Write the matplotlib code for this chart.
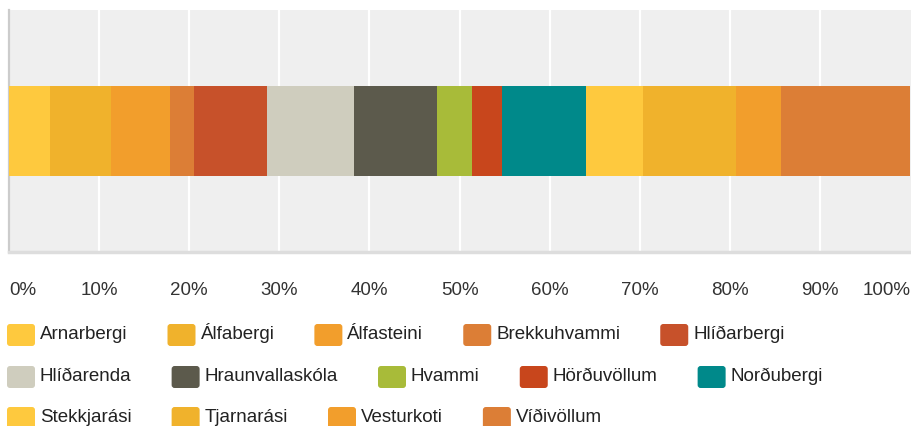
import matplotlib
matplotlib.use("Agg")
import matplotlib.pyplot as plt
from matplotlib.patches import FancyBboxPatch

plt.rcParams['font.family'] = ['Liberation Sans', 'DejaVu Sans']

# Share of each school (percent), left to right
schools = ['Arnarbergi', 'Álfabergi', 'Álfasteini', 'Brekkuhvammi', 'Hlíðarbergi',
           'Hlíðarenda', 'Hraunvallaskóla', 'Hvammi', 'Hörðuvöllum', 'Norðubergi',
           'Stekkjarási', 'Tjarnarási', 'Vesturkoti', 'Víðivöllum']
shares = [4.5, 6.8, 6.6, 2.6, 8.1, 9.7, 9.2, 3.9, 3.3, 9.3, 6.3, 10.4, 5.0, 14.3]
colors = ['#fec93e', '#f0b22c', '#f29e2c', '#dc7e36', '#c7512a',
          '#cfcdbe', '#5c5a4c', '#a8bb39', '#c8461c', '#00898a',
          '#fec93e', '#f0b22c', '#f29e2c', '#dc7e36']
tick_values = list(range(0, 101, 10))
tick_labels = [f'{v}%' for v in tick_values]

W, H = 912, 427
fig = plt.figure(figsize=(W / 100, H / 100), dpi=100)
fig.patch.set_facecolor('white')

# plot area in pixels: x 9..912, y 11..253
ax = fig.add_axes([9 / W, (H - 253) / H, (W - 9) / W, (253 - 11) / H])
ax.set_facecolor('#efefef')
ax.set_xlim(0, 100.2)
ax.set_ylim(-1.33, 1.33)

left = 0
for name, val, col in zip(schools, shares, colors):
    ax.barh(0, val, left=left, height=1.0, color=col, linewidth=0, zorder=3)
    left += val

for v in tick_values[1:-1]:
    ax.axvline(v, color='white', linewidth=1.6, zorder=1)

for s in ['top', 'right']:
    ax.spines[s].set_visible(False)
ax.spines['left'].set_color('#cccccc')
ax.spines['left'].set_linewidth(1.6)
ax.spines['bottom'].set_color('#dddddd')
ax.spines['bottom'].set_linewidth(2.5)
ax.set_yticks([])
ax.set_xticks(tick_values)
ax.set_xticklabels(tick_labels)
ax.tick_params(axis='x', length=0, pad=21, labelsize=13.5, labelcolor='#333333')
labels = ax.get_xticklabels()
labels[0].set_horizontalalignment('left')
labels[-1].set_horizontalalignment('right')

# legend drawn on an overlay in pixel coordinates, flowing left to right
lg = fig.add_axes([0, 0, 1, 1])
lg.set_xlim(0, W)
lg.set_ylim(H, 0)
lg.axis('off')
renderer = fig.canvas.get_renderer()

row_tops = [325, 367, 408]
x = 7
row = 0
for name, col in zip(schools, colors):
    t = lg.text(0, 0, name, fontsize=13.5, color='#222222', va='baseline', ha='left')
    tw = t.get_window_extent(renderer).width
    if x + 33 + tw > W - 2:
        row += 1
        x = 7
    top = row_tops[row]
    lg.add_patch(FancyBboxPatch((x + 2, top + 2), 24, 18,
                                boxstyle='round,pad=2,rounding_size=3',
                                facecolor=col, edgecolor='none'))
    t.set_position((x + 33, top + 14))
    x = x + 33 + tw + 40

fig.savefig('out.png', dpi=100)
